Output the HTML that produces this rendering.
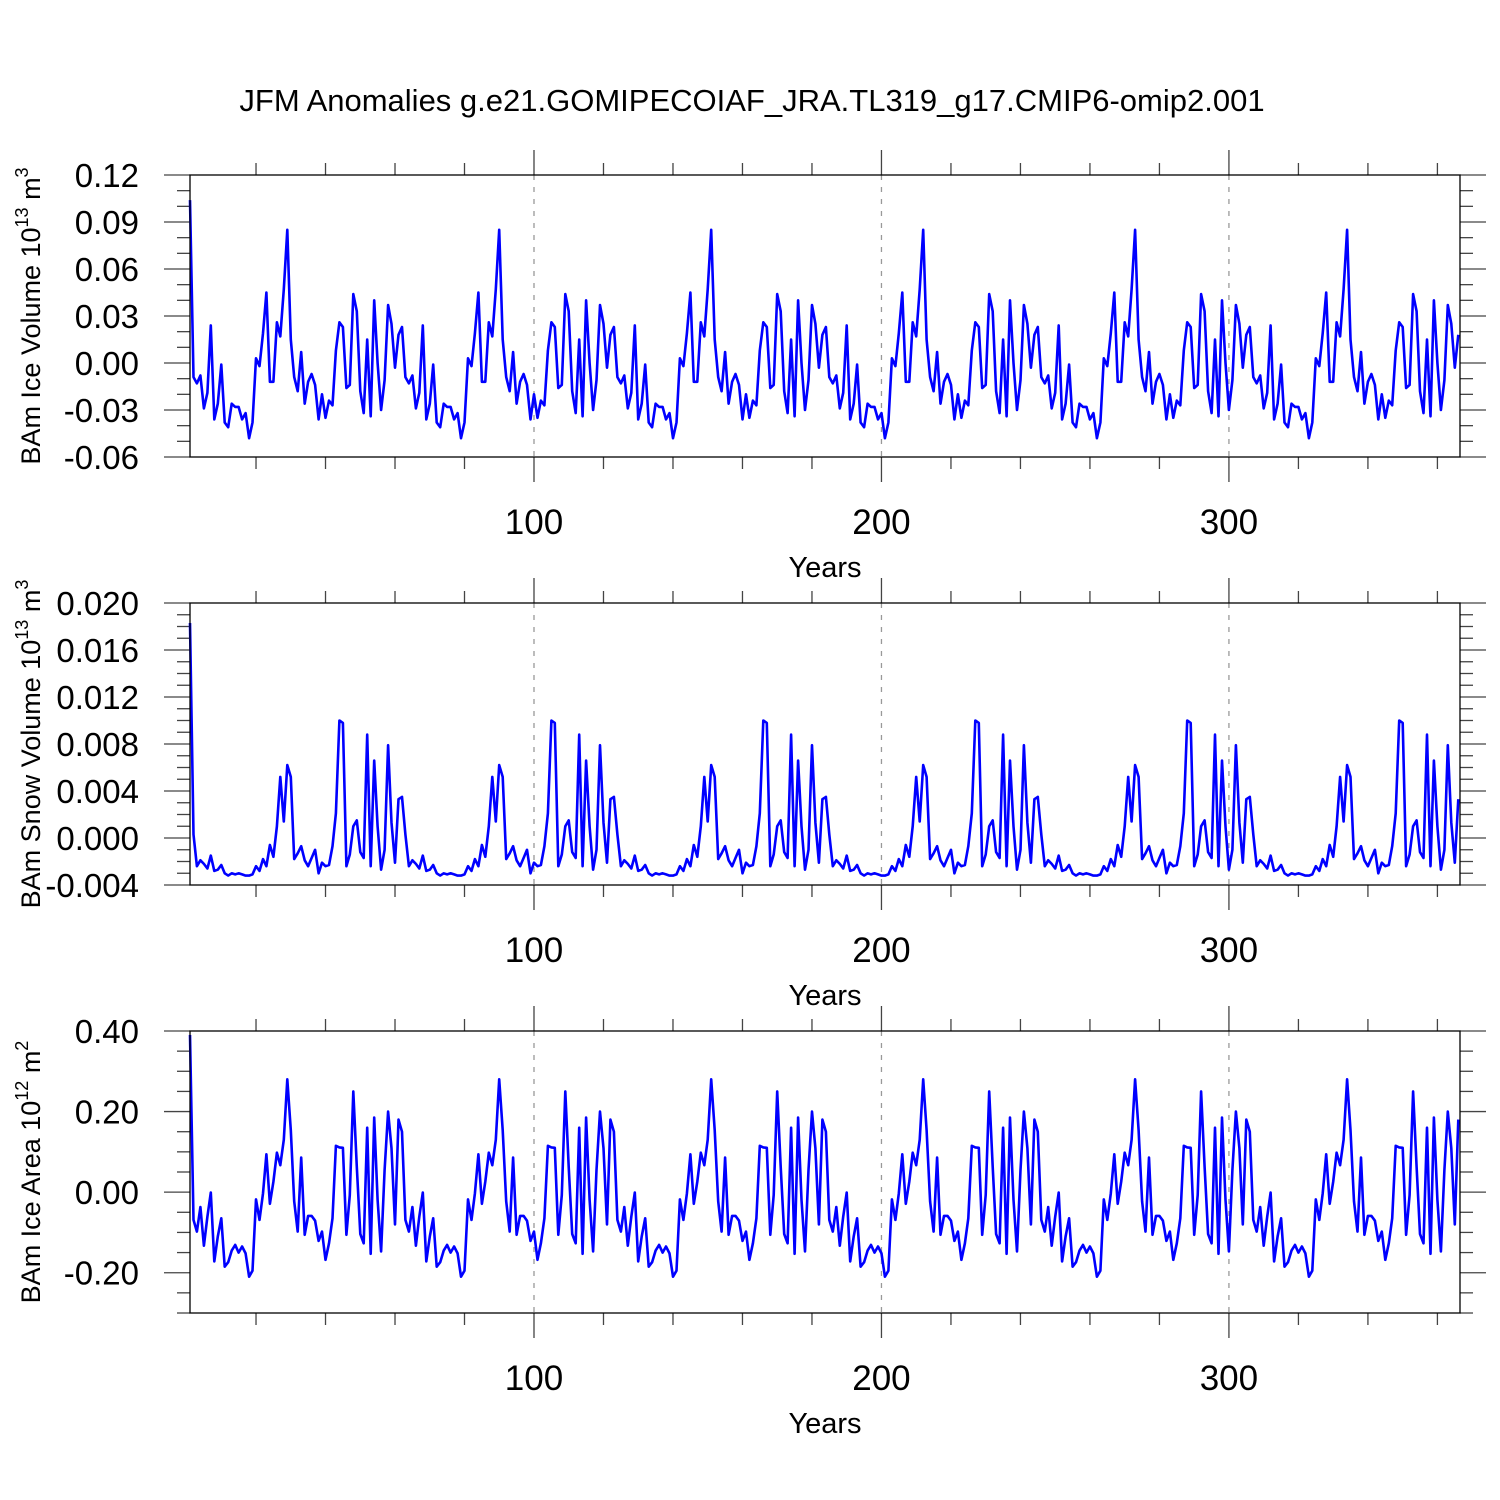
<!DOCTYPE html>
<html><head><meta charset="utf-8"><style>
body{margin:0;background:#fff}
svg{display:block;font-family:"Liberation Sans",Arial,sans-serif}
</style></head><body>
<svg id="chart" width="1500" height="1500" viewBox="0 0 1500 1500">
<rect width="1500" height="1500" fill="#fff"/>
<text x="752" y="111" font-size="31" text-anchor="middle">JFM Anomalies g.e21.GOMIPECOIAF_JRA.TL319_g17.CMIP6-omip2.001</text>
</svg>
<script>
// one 61-year forcing cycle (years 2..62), repeated; year 1 is separate
const iceVolFirst = 0.104;
const iceVolCycle = [-0.009,-0.013,-0.008,-0.029,-0.019,0.024,-0.036,-0.026,-0.001,-0.038,-0.041,-0.026,-0.028,-0.028,-0.036,-0.032,-0.048,-0.038,0.003,-0.002,0.019,0.045,-0.012,-0.012,0.026,0.017,0.047,0.085,0.015,-0.009,-0.018,0.007,-0.026,-0.012,-0.007,-0.014,-0.036,-0.020,-0.035,-0.024,-0.027,0.008,0.026,0.023,-0.016,-0.014,0.044,0.033,-0.018,-0.032,0.015,-0.034,0.040,0.000,-0.030,-0.011,0.037,0.025,-0.003,0.018,0.023];
const snowFirst = 0.0183;
const snowCycle = [0.0003,-0.0024,-0.0019,-0.0022,-0.0026,-0.0015,-0.0028,-0.0027,-0.0023,-0.0030,-0.0032,-0.0030,-0.0031,-0.0030,-0.0031,-0.0032,-0.0032,-0.0031,-0.0024,-0.0028,-0.0018,-0.0024,-0.0006,-0.0016,0.0010,0.0052,0.0014,0.0062,0.0052,-0.0018,-0.0013,-0.0007,-0.0019,-0.0024,-0.0017,-0.0010,-0.0030,-0.0021,-0.0024,-0.0023,-0.0007,0.0021,0.0100,0.0098,-0.0024,-0.0014,0.0010,0.0015,-0.0012,-0.0017,0.0088,-0.0024,0.0066,0.0010,-0.0027,-0.0010,0.0079,0.0013,-0.0021,0.0033,0.0035];
const areaFirst = 0.39;
const areaCycle = [-0.069,-0.098,-0.037,-0.133,-0.061,-0.001,-0.172,-0.110,-0.065,-0.185,-0.174,-0.145,-0.131,-0.150,-0.135,-0.152,-0.210,-0.195,-0.018,-0.069,-0.003,0.094,-0.029,0.026,0.098,0.067,0.130,0.280,0.154,-0.023,-0.098,0.086,-0.106,-0.059,-0.059,-0.071,-0.121,-0.098,-0.168,-0.127,-0.065,0.115,0.111,0.110,-0.106,-0.007,0.250,0.063,-0.104,-0.127,0.160,-0.153,0.185,-0.019,-0.147,0.055,0.200,0.109,-0.080,0.180,0.150];
const iceVol = [iceVolFirst, ...iceVolCycle, ...iceVolCycle, ...iceVolCycle, ...iceVolCycle, ...iceVolCycle, ...iceVolCycle].slice(0,366);
const snowVol = [snowFirst, ...snowCycle, ...snowCycle, ...snowCycle, ...snowCycle, ...snowCycle, ...snowCycle].slice(0,366);
const iceArea = [areaFirst, ...areaCycle, ...areaCycle, ...areaCycle, ...areaCycle, ...areaCycle, ...areaCycle].slice(0,366);
const xTickLabels = [100, 200, 300];
const iceVolTicks = ["0.12","0.09","0.06","0.03","0.00","-0.03","-0.06"];
const snowTicks = ["0.020","0.016","0.012","0.008","0.004","0.000","-0.004"];
const areaTicks = ["0.40","0.20","0.00","-0.20"];

const NS = "http://www.w3.org/2000/svg";
const svg = document.getElementById('chart');
const X0 = 190, X1 = 1460, YEAR0 = 1, YEAR1 = 366.5;
function xs(yr){ return X0 + (yr - YEAR0) * (X1 - X0) / (YEAR1 - YEAR0); }
function mk(tag, attrs, parent){
  const e = document.createElementNS(NS, tag);
  for (const k in attrs) e.setAttribute(k, attrs[k]);
  (parent || svg).appendChild(e); return e;
}

function panel(key, top, bottom, ymin, ymax, minorStep, majorEvery, ticks, series, titleParts){
  const g = mk('g', {});
  
  
  const ys = v => bottom - (v - ymin) * (bottom - top) / (ymax - ymin);
  xTickLabels.forEach(t => {
    const l = mk('line', {x1: xs(t), x2: xs(t), y1: top, y2: bottom, stroke: '#999', 'stroke-width': 1.3, 'stroke-dasharray': '5,7'}, g);
    
    
  });
  for (let t = 20; t <= 360; t += 20) {
    const major = t % 100 === 0;
    const len = major ? 25 : 12;
    mk('line', {x1: xs(t), x2: xs(t), y1: bottom, y2: bottom + len, stroke: '#444', 'stroke-width': 1.3}, g);
    mk('line', {x1: xs(t), x2: xs(t), y1: top, y2: top - len, stroke: '#444', 'stroke-width': 1.3}, g);
  }
  xTickLabels.forEach(t => {
    const tx = mk('text', {x: xs(t), y: bottom + 77, 'font-size': 35, 'text-anchor': 'middle'}, g);
    tx.textContent = t;
    
    
  });
  const xt = mk('text', {x: 825, y: bottom + 120, 'font-size': 29, 'text-anchor': 'middle'}, g);
  xt.textContent = 'Years';
  
  
  const nMinor = Math.round((ymax - ymin) / minorStep);
  for (let i = 0; i <= nMinor; i++) {
    const v = ymax - i * minorStep;
    const y = ys(v);
    const major = (i % majorEvery === 0) && (i / majorEvery < ticks.length);
    const len = major ? 26 : 13;
    mk('line', {x1: X0, x2: X0 - len, y1: y, y2: y, stroke: '#444', 'stroke-width': 1.3}, g);
    mk('line', {x1: X1, x2: X1 + len, y1: y, y2: y, stroke: '#444', 'stroke-width': 1.3}, g);
    if (major) {
      const tl = mk('text', {x: 139, y: y + 12, 'font-size': 33, 'text-anchor': 'end'}, g);
      tl.textContent = ticks[i / majorEvery];
      
      
    }
  }
  const yt = mk('text', {x: 0, y: 0, 'font-size': 27, 'text-anchor': 'middle', transform: `translate(40,${(top + bottom) / 2}) rotate(-90)`}, g);
  
  
  const a = mk('tspan', {}, yt); a.textContent = titleParts[0] + ' 10';
  const b = mk('tspan', {dy: -12, 'font-size': 18}, yt); b.textContent = titleParts[1];
  const c = mk('tspan', {dy: 12}, yt); c.textContent = ' m';
  const d = mk('tspan', {dy: -12, 'font-size': 18}, yt); d.textContent = titleParts[2];
  const pts = series.map((v, i) => xs(i + 1).toFixed(1) + ',' + ys(v).toFixed(1)).join(' ');
  const pl = mk('polyline', {points: pts, fill: 'none', stroke: '#0000ff', 'stroke-width': 2.6, 'stroke-linejoin': 'round'}, g);
  
  
  const fr = mk('rect', {x: X0, y: top, width: X1 - X0, height: bottom - top, fill: 'none', stroke: '#000', 'stroke-width': 1.3}, g);
  
  
}

panel('ice-volume', 175, 457, -0.06, 0.12, 0.01, 3, iceVolTicks, iceVol, ['BAm Ice Volume', '13', '3']);
panel('snow-volume', 603, 885, -0.004, 0.020, 0.001, 4, snowTicks, snowVol, ['BAm Snow Volume', '13', '3']);
panel('ice-area', 1031, 1313, -0.30, 0.40, 0.05, 4, areaTicks, iceArea, ['BAm Ice Area', '12', '2']);
</script>
</body></html>
